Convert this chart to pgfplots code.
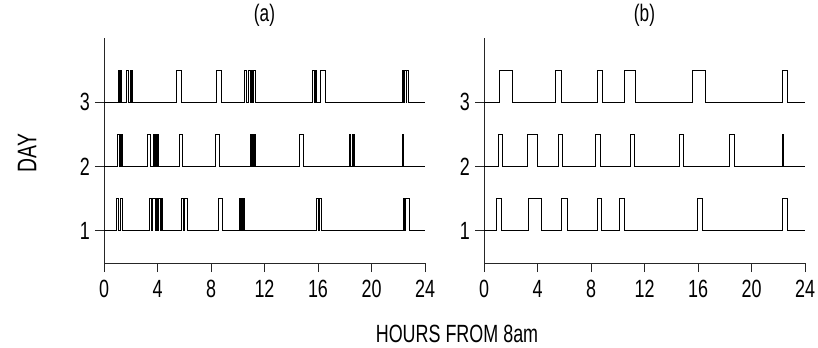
\documentclass[border=0pt]{standalone}
\usepackage{pgfplots}
\pgfplotsset{compat=1.18}
\usepackage{fontspec}
\setmainfont[FakeStretch=0.72]{Liberation Sans}
\begin{document}
\begin{tikzpicture}
\useasboundingbox (-104bp,-85bp) rectangle (714bp,263bp);
\pgfplotsset{
  pulse/.style={
    scale only axis, width=321bp, height=225bp,
    xmin=0, xmax=24, ymin=0.5, ymax=4,
    axis x line*=bottom, axis y line*=left,
    axis line style={-, line width=0.9bp, black!85},
    tick style={line width=0.9bp, black!85},
    tick align=outside, major tick length=9bp,
    xtick={0,4,...,24}, ytick={1,2,3},
    /pgf/number format/assume math mode=true,
    ticklabel style={font=\fontsize{25}{27}\selectfont, inner sep=1bp},
    xticklabel style={yshift=-7bp},
    yticklabel style={xshift=-4bp},
    title style={font=\fontsize{24}{26}\selectfont, at={(0.5,1)}, anchor=south, inner sep=1bp, yshift=4bp},
    clip=false,
  },
  st/.style={black, line width=0.9bp, const plot, mark=none},
}
\begin{axis}[pulse, at={(0bp,0bp)}, anchor=south west, title={(a)}]
\addplot[st] coordinates {(0,1)
(0.95,1.5)(1.06,1)(1.20,1.5)(1.35,1)
(3.39,1.5)(3.55,1)(3.62,1.5)(3.81,1)(3.93,1.5)(4.02,1)(4.10,1.5)(4.20,1)(4.27,1.5)(4.36,1)
(5.81,1.5)(5.92,1)(6.05,1.5)(6.23,1)
(8.55,1.5)(8.87,1)
(10.12,1.5)(10.20,1)(10.27,1.5)(10.35,1)(10.42,1.5)(10.50,1)
(15.90,1.5)(16.00,1)(16.12,1.5)(16.27,1)
(22.38,1.5)(22.46,1)(22.54,1.5)(22.80,1)
(24,1)};
\addplot[st] coordinates {(0,2)
(1.02,2.5)(1.12,2)(1.20,2.5)(1.28,2)(1.32,2.5)(1.40,2)
(3.26,2.5)(3.44,2)(3.69,2.5)(3.78,2)(3.84,2.5)(3.92,2)(3.97,2.5)(4.06,2)
(5.61,2.5)(5.88,2)
(8.30,2.5)(8.60,2)
(10.96,2.5)(11.05,2)(11.12,2.5)(11.20,2)(11.24,2.5)(11.29,2)
(14.60,2.5)(14.90,2)
(18.34,2.5)(18.45,2)(18.55,2.5)(18.62,2)(18.66,2.5)(18.72,2)
(22.28,2.5)(22.33,2)(22.36,2.5)(22.40,2)
(24,2)};
\addplot[st] coordinates {(0,3)
(1.10,3.5)(1.16,3)(1.26,3.5)(1.34,3)
(1.69,3.5)(1.80,3)(1.98,3.5)(2.04,3)(2.08,3.5)(2.12,3)
(5.38,3.5)(5.81,3)
(8.42,3.5)(8.75,3)
(10.50,3.5)(10.62,3)(10.80,3.5)(10.95,3)(11.00,3.5)(11.10,3)(11.18,3.5)(11.29,3)
(15.60,3.5)(15.70,3)(15.80,3.5)(15.90,3)(16.22,3.5)(16.52,3)
(22.33,3.5)(22.42,3)(22.48,3.5)(22.58,3)(22.65,3.5)(22.75,3)
(24,3)};
\end{axis}
\begin{axis}[pulse, at={(380bp,0bp)}, anchor=south west, title={(b)}]
\addplot[st] coordinates {(0,1)
(0.95,1.5)(1.32,1)(3.31,1.5)(4.31,1)(5.81,1.5)(6.23,1)(8.47,1.5)(8.80,1)
(10.12,1.5)(10.47,1)(15.95,1.5)(16.32,1)(22.33,1.5)(22.70,1)
(24,1)};
\addplot[st] coordinates {(0,2)
(1.07,2.5)(1.40,2)(3.24,2.5)(4.01,2)(5.56,2.5)(5.88,2)(8.33,2.5)(8.67,2)
(10.92,2.5)(11.24,2)(14.60,2.5)(14.90,2)(18.34,2.5)(18.72,2)(22.30,2.5)(22.37,2)
(24,2)};
\addplot[st] coordinates {(0,3)
(1.12,3.5)(2.12,3)(5.36,3.5)(5.81,3)(8.47,3.5)(8.82,3)(10.49,3.5)(11.29,3)
(15.60,3.5)(16.52,3)(22.33,3.5)(22.70,3)
(24,3)};
\end{axis}
\node[rotate=90, font=\fontsize{27}{29}\selectfont] at (-77bp,110bp) {DAY};
\node[font=\fontsize{25}{27}\selectfont] at (353bp,-71bp) {HOURS FROM 8am};
\end{tikzpicture}
\end{document}
